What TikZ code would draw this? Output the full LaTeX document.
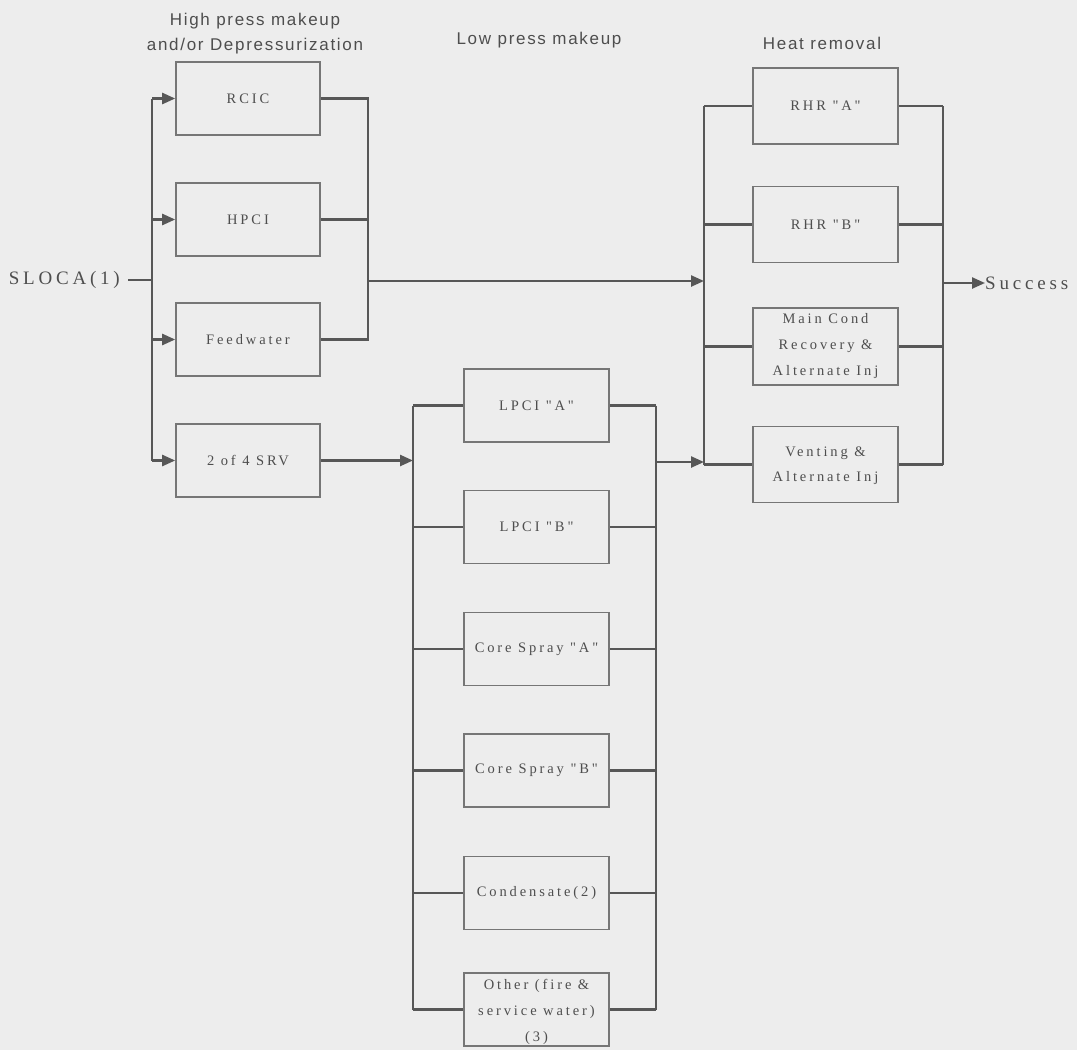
\documentclass[tikz,border=0pt]{standalone}
\usepackage{fontspec}
\setmainfont{Liberation Serif}
\newfontfamily\boxfont[LetterSpace=20]{Liberation Serif}
\newfontfamily\hdrfont[LetterSpace=10]{Liberation Sans}
\usetikzlibrary{arrows.meta}
\definecolor{bg}{HTML}{EDEDED}
\definecolor{ln}{HTML}{575757}
\definecolor{bx}{HTML}{767676}
\definecolor{tx}{HTML}{4E4E4E}
\begin{document}
\begin{tikzpicture}[x=1pt,y=-1pt,
  box/.style={draw=bx,line width=1.6pt,minimum width=145pt,minimum height=74pt,inner sep=0pt},
  btxt/.style={text=tx,font=\boxfont\fontsize{14.5}{25}\selectfont,align=center,inner sep=0pt},
  hdr/.style={text=tx,font=\hdrfont\fontsize{17}{25}\selectfont,align=center,inner sep=0pt},
  big/.style={text=tx,font=\boxfont\fontsize{19}{22}\selectfont,inner sep=0pt},
  conn/.style={draw=ln,line width=2.4pt},
  arr/.style={conn,-{Triangle[length=13pt,width=11pt]}}]
\fill[bg] (0,0) rectangle (1077,1050);
\useasboundingbox (0,0) rectangle (1077,1050);
% headers
\node[hdr] (h1) at (255,34) {High press makeup\\and/or Depressurization};
\node[hdr] (h2) at (539,40) {Low press makeup};
\node[hdr] (h3) at (822,43) {Heat removal};
% left group
\node[box,minimum width=144pt,minimum height=73pt] (rcic) at (248,98.5) {};
\node[box,minimum width=144pt,minimum height=73pt] (hpci) at (248,219.5) {};
\node[box,minimum width=144pt,minimum height=73pt] (fw) at (248,339.5) {};
\node[box,minimum width=144pt,minimum height=73pt] (srv) at (248,460.5) {};
\node[btxt] at (rcic.center) {RCIC};
\node[btxt] at (hpci.center) {HPCI};
\node[btxt] at (fw.center) {Feedwater};
\node[btxt] at (srv.center) {2 of 4 SRV};
% low press group
\node[box,minimum height=73pt] (lpa) at (536.5,405.5) {};
\node[box,minimum height=73pt] (lpb) at (536.5,527) {};
\node[box,minimum height=73pt] (csa) at (536.5,649) {};
\node[box,minimum height=73pt] (csb) at (536.5,770.5) {};
\node[box,minimum height=73pt] (cond) at (536.5,893) {};
\node[box,minimum height=73pt] (other) at (536.5,1009.5) {};
\node[btxt] at (lpa.center) {LPCI "A"};
\node[btxt] at (lpb.center) {LPCI "B"};
\node[btxt] at (csa.center) {Core Spray "A"};
\node[btxt] at (csb.center) {Core Spray "B"};
\node[btxt] at (cond.center) {Condensate(2)};
\node[btxt,font=\boxfont\fontsize{14.5}{26}\selectfont] at ([yshift=-2pt]other.center) {Other (fire \&\\service water)\\(3)};
% heat removal group
\node[box,minimum height=76pt] (rhra) at (825.5,106) {};
\node[box,minimum height=76pt] (rhrb) at (825.5,224.5) {};
\node[box,minimum height=77pt] (mcr) at (825.5,346.5) {};
\node[box,minimum height=76pt] (vent) at (825.5,464.5) {};
\node[btxt] at (rhra.center) {RHR "A"};
\node[btxt] at (rhrb.center) {RHR "B"};
\node[btxt,font=\boxfont\fontsize{14.5}{26}\selectfont] at (mcr.center) {Main Cond\\Recovery \&\\Alternate Inj};
\node[btxt] at ([yshift=-1pt]vent.center) {Venting \&\\Alternate Inj};
% start and end
\node[big,anchor=east] (sloca) at (120,280) {SLOCA(1)};
\node[big,anchor=west] (success) at (985,283) {Success};
% bus coordinates
\coordinate (L1) at (152,280);
\coordinate (R1) at (368,281);
\coordinate (L2) at (413,461);
\coordinate (R2) at (656,462);
\coordinate (L3) at (704,281);
\coordinate (R3) at (943,283);
% connectors: left group
\draw[conn] ([xshift=8pt]sloca.east) -- (L1);
\draw[conn] (rcic.west -| L1) -- (srv.west -| L1);
\foreach \n in {rcic,hpci,fw,srv} \draw[arr] (\n.west -| L1) -- (\n.west);
\draw[conn] (rcic.east) -- (rcic.east -| R1) -- (fw.east -| R1) -- (fw.east);
\draw[conn] (hpci.east) -- (hpci.east -| R1);
\draw[arr] (R1) -- (L3);
\draw[arr] (srv.east) -- (srv.east -| L2);
% low press group
\draw[conn] (lpa.west -| L2) -- (other.west -| L2);
\draw[conn] (lpa.east -| R2) -- (other.east -| R2);
\foreach \n in {lpa,lpb,csa,csb,cond,other} {
  \draw[conn] (\n.west -| L2) -- (\n.west);
  \draw[conn] (\n.east) -- (\n.east -| R2);
}
\draw[arr] (R2) -- (R2 -| L3);
% heat removal group
\draw[conn] (rhra.west -| L3) -- (vent.west -| L3);
\draw[conn] (rhra.east -| R3) -- (vent.east -| R3);
\foreach \n in {rhra,rhrb,mcr,vent} {
  \draw[conn] (\n.west -| L3) -- (\n.west);
  \draw[conn] (\n.east) -- (\n.east -| R3);
}
\draw[arr] (R3) -- (success.west);
\end{tikzpicture}
\end{document}
